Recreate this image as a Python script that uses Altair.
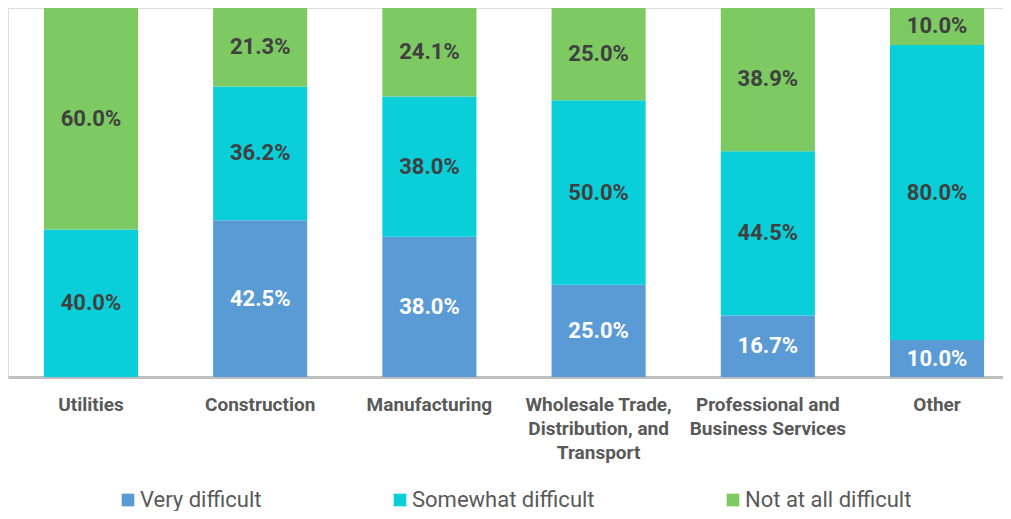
import altair as alt
import pandas as pd

categories = [
    "Utilities",
    "Construction",
    "Manufacturing",
    "Wholesale Trade,\nDistribution, and\nTransport",
    "Professional and\nBusiness Services",
    "Other",
]
series = ["Very difficult", "Somewhat difficult", "Not at all difficult"]
very_difficult = [0.0, 42.5, 38.0, 25.0, 16.7, 10.0]
somewhat_difficult = [40.0, 36.2, 38.0, 50.0, 44.5, 80.0]
not_at_all_difficult = [60.0, 21.3, 24.1, 25.0, 38.9, 10.0]
colors = ["#5B9BD5", "#0BCFD8", "#7DC962"]
label_colors = ["#FFFFFF", "#404040", "#404040"]

rows = []
for s_i, (s, vals) in enumerate(zip(series, [very_difficult, somewhat_difficult, not_at_all_difficult])):
    for c, v in zip(categories, vals):
        if v > 0:
            rows.append({"cat": c, "series": s, "idx": s_i, "value": v, "lc": label_colors[s_i]})
df = pd.DataFrame(rows)

FONT = "Roboto"

base = alt.Chart(df).transform_stack(
    stack="value", groupby=["cat"], as_=["y0", "y1"],
    sort=[alt.SortField("idx", order="ascending")],
).transform_calculate(
    mid="(datum.y0 + datum.y1) / 2",
    lab="format(datum.value, '.1f') + '%'",
)

xenc = alt.X(
    "cat:N", sort=categories, title=None,
    scale=alt.Scale(paddingInner=0.444, paddingOuter=0.162, align=0.655),
    axis=alt.Axis(
        labelAngle=0, labelExpr="split(datum.label, '\\n')",
        labelFont=FONT, labelFontSize=19, labelFontWeight="bold",
        labelColor="#595959", labelLineHeight=24, labelPadding=18,
        ticks=False, domainColor="#BFBFBF", domainWidth=3,
        labelBaseline="top",
    ),
)
yscale = alt.Scale(domain=[0, 100], nice=False, zero=True)

bars = base.mark_bar().encode(
    x=xenc,
    y=alt.Y("y0:Q", scale=yscale, axis=None),
    y2="y1:Q",
    color=alt.Color(
        "series:N", sort=series,
        scale=alt.Scale(domain=series, range=colors),
        legend=alt.Legend(
            title=None, orient="none", direction="horizontal",
            legendX=109, legendY=481, symbolType="square", symbolSize=160,
            symbolStrokeWidth=0, labelFont=FONT, labelFontSize=22,
            labelColor="#595959", columnPadding=127, labelOffset=1, padding=0,
            labelLimit=400,
        ),
    ),
)

texts = base.mark_text(font=FONT, fontSize=22, fontWeight="bold").encode(
    x=alt.X("cat:N", sort=categories),
    y=alt.Y("mid:Q", scale=yscale, axis=None),
    text="lab:N",
    color=alt.Color("lc:N", scale=None),
)

chart = alt.layer(bars, texts).properties(
    width=995, height=369,
    autosize=alt.AutoSizeParams(type="none"),
    padding={"left": 0, "top": 0, "right": 0, "bottom": 134},
).configure_view(stroke=None).configure(background="white")

chart.save("out.html", embed_options={"renderer": "svg", "actions": False})
